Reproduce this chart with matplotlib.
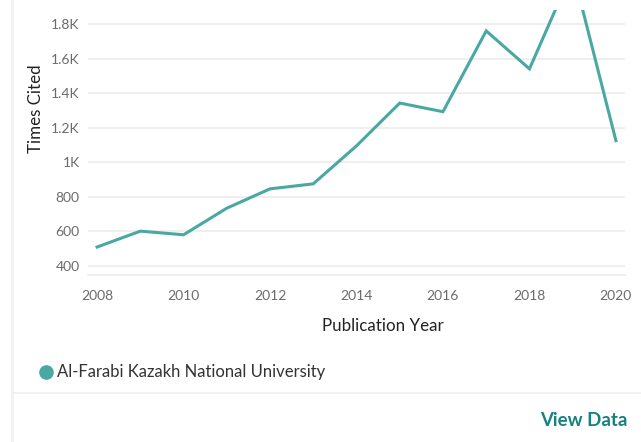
import matplotlib
matplotlib.use("Agg")
import matplotlib.pyplot as plt
from matplotlib.ticker import FuncFormatter
from matplotlib.lines import Line2D

years = [2008, 2009, 2010, 2011, 2012, 2013, 2014, 2015, 2016, 2017, 2018, 2019, 2020]
times_cited = [508, 600, 579, 733, 845, 874, 1094, 1342, 1292, 1760, 1540, 2110, 1124]
series_name = "Al-Farabi Kazakh National University"
x_ticks = [2008, 2010, 2012, 2014, 2016, 2018, 2020]
y_ticks = [400, 600, 800, 1000, 1200, 1400, 1600, 1800]

plt.rcParams['font.family'] = ['Lato', 'DejaVu Sans']

W, H = 641, 442
fig = plt.figure(figsize=(W / 100, H / 100), dpi=100)
fig.patch.set_facecolor("white")

line_color = "#4aa8a3"
tick_color = "#6b6b6b"
grid_color = "#ececec"

# axes: left 88, right 625, top 10, bottom 275 (pixels)
ax = fig.add_axes([88 / W, 1 - 275 / H, (625 - 88) / W, (275 - 10) / H])
ax.plot(years, times_cited, color=line_color, lw=2.2, solid_joinstyle="miter", clip_on=True)
ax.set_xlim(2007.79, 2020.21)
ax.set_ylim(346, 1881)
ax.set_xticks(x_ticks)
ax.set_yticks(y_ticks)

def kfmt(v, pos):
    if v >= 1000:
        s = f"{v/1000:.1f}".rstrip("0").rstrip(".")
        return s + "K"
    return f"{int(v)}"

ax.yaxis.set_major_formatter(FuncFormatter(kfmt))
ax.grid(axis="y", color=grid_color, lw=1.2)
ax.set_axisbelow(True)
for side in ["top", "right", "left"]:
    ax.spines[side].set_visible(False)
ax.spines["bottom"].set_color(grid_color)
ax.spines["bottom"].set_linewidth(1.2)
ax.tick_params(axis="both", length=0, labelsize=10, labelcolor=tick_color)
ax.tick_params(axis="x", pad=11)
ax.tick_params(axis="y", pad=6)

ax.text((36 - 88) / 537, (275 - 109) / 265, "Times Cited", fontsize=12.2, color="#222222",
        rotation=90, ha="center", va="center", transform=ax.transAxes)
ax.text((383 - 88) / 537, (275 - 326) / 265, "Publication Year", fontsize=12.2, color="#222222",
        ha="center", va="center", transform=ax.transAxes)

# left faint border
fig.add_artist(Line2D([11.5 / W, 11.5 / W], [0, 1], color="#f2f2f2", lw=2, transform=fig.transFigure))
# separator line
fig.add_artist(Line2D([12 / W, 1], [1 - 393 / H, 1 - 393 / H], color="#f0f0f0", lw=1.2, transform=fig.transFigure))

# legend
fig.add_artist(Line2D([45.5 / W], [1 - 372 / H], marker="o", markersize=9.5, color=line_color,
                      linestyle="none", transform=fig.transFigure))
fig.text(57 / W, 1 - 372 / H, series_name, fontsize=12, color="#333333", va="center", ha="left")

fig.text(627 / W, 1 - 420 / H, "View Data", fontsize=13.4, fontweight="bold", color="#16817f",
         va="center", ha="right")

fig.savefig("out.png", dpi=100, facecolor="white")
